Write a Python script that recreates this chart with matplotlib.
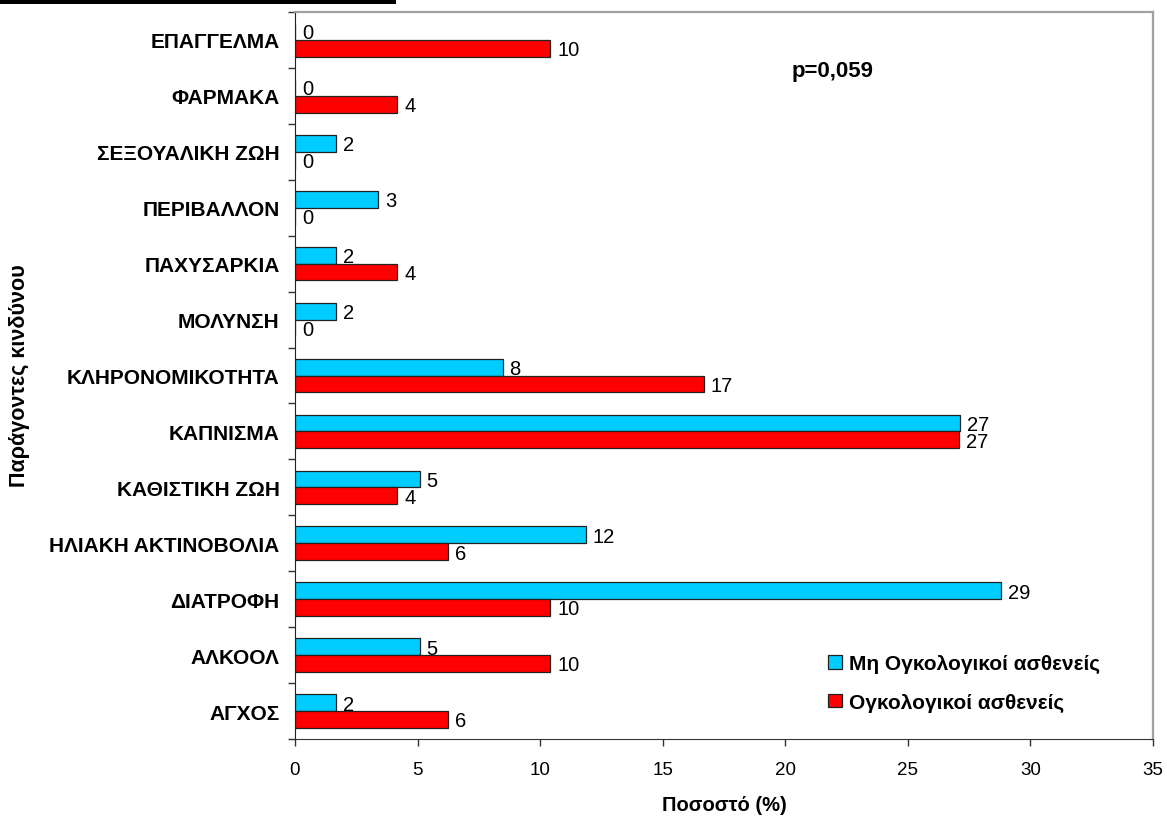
import numpy as np
import matplotlib.pyplot as plt
from matplotlib.patches import Rectangle
from matplotlib.ticker import FixedLocator

plt.rcParams['font.family'] = ['Liberation Sans', 'DejaVu Sans']

# risk factors, bottom to top
factors = ['ΑΓΧΟΣ', 'ΑΛΚΟΟΛ', 'ΔΙΑΤΡΟΦΗ', 'ΗΛΙΑΚΗ ΑΚΤΙΝΟΒΟΛΙΑ', 'ΚΑΘΙΣΤΙΚΗ ΖΩΗ',
           'ΚΑΠΝΙΣΜΑ', 'ΚΛΗΡΟΝΟΜΙΚΟΤΗΤΑ', 'ΜΟΛΥΝΣΗ', 'ΠΑΧΥΣΑΡΚΙΑ', 'ΠΕΡΙΒΑΛΛΟΝ',
           'ΣΕΞΟΥΑΛΙΚΗ ΖΩΗ', 'ΦΑΡΜΑΚΑ', 'ΕΠΑΓΓΕΛΜΑ']

# percentages (%)
non_onc = [1.69, 5.08, 28.81, 11.86, 5.08, 27.12, 8.47, 1.69, 1.69, 3.39, 1.69, 0, 0]
onc = [6.25, 10.42, 10.42, 6.25, 4.17, 27.08, 16.67, 0, 4.17, 0, 0, 4.17, 10.42]

labels_series = ['Μη Ογκολογικοί ασθενείς', 'Ογκολογικοί ασθενείς']
cyan = '#00CCFF'
red = '#FF0000'

W, H = 1167, 820
fig = plt.figure(figsize=(W/100, H/100), dpi=100)
ax = fig.add_axes([295/W, 80/H, (1153-295)/W, (740-13)/H])

y = np.arange(len(factors))
h = 0.3
b1 = ax.barh(y + h/2, non_onc, height=h, color=cyan, edgecolor='#222222', linewidth=0.9,
             label=labels_series[0])
b2 = ax.barh(y - h/2, onc, height=h, color=red, edgecolor='#222222', linewidth=0.9,
             label=labels_series[1])

for bars, vals in [(b1, non_onc), (b2, onc)]:
    for r, v in zip(bars, vals):
        ax.annotate(f'{v:.0f}', (v, r.get_y() + r.get_height()/2), xytext=(5, -1),
                    textcoords='offset points', ha='left', va='center', fontsize=14.5)

ax.set_xlim(0, 35)
ax.set_ylim(-0.5, len(factors) - 0.5)
ax.set_xticks(np.arange(0, 36, 5))
ax.set_yticks(y)
ax.set_yticklabels(factors, fontsize=15, fontweight='bold')
ax.tick_params(axis='y', which='major', length=0, pad=11)
ax.yaxis.set_minor_locator(FixedLocator(np.arange(-0.5, len(factors), 1)))
ax.tick_params(axis='y', which='minor', length=5, width=1, color='#333333')
ax.tick_params(axis='x', length=5, width=1, color='#333333', labelsize=13.5, pad=11)

ax.spines['left'].set_color('#222222')
ax.spines['bottom'].set_color('#333333')
for s in ['top', 'right']:
    ax.spines[s].set_color('#A0A0A0')
    ax.spines[s].set_linewidth(1.6)

ax.set_xlabel('Ποσοστό (%)', fontsize=14.5, fontweight='bold', labelpad=12)
fig.text(20/W, 1 - 376/H, 'Παράγοντες κινδύνου', rotation=90, fontsize=15.5,
         fontweight='bold', ha='center', va='center')

fig.text(792/W, 1 - 71/H, 'p=0,059', fontsize=16, fontweight='bold', va='center')

ax.legend(loc='upper left', bbox_to_anchor=(828/W, 1 - 655/H),
          bbox_transform=fig.transFigure, frameon=False,
          prop={'weight': 'bold', 'size': 15}, handlelength=0.65, handleheight=0.65,
          handletextpad=0.35, labelspacing=0.95, borderpad=0, borderaxespad=0)

# black strip at the top edge
fig.patches.append(Rectangle((0, 1 - 5/H), 396/W, 5/H, transform=fig.transFigure,
                             facecolor='black', edgecolor='none'))

fig.savefig('out.png', dpi=100)
